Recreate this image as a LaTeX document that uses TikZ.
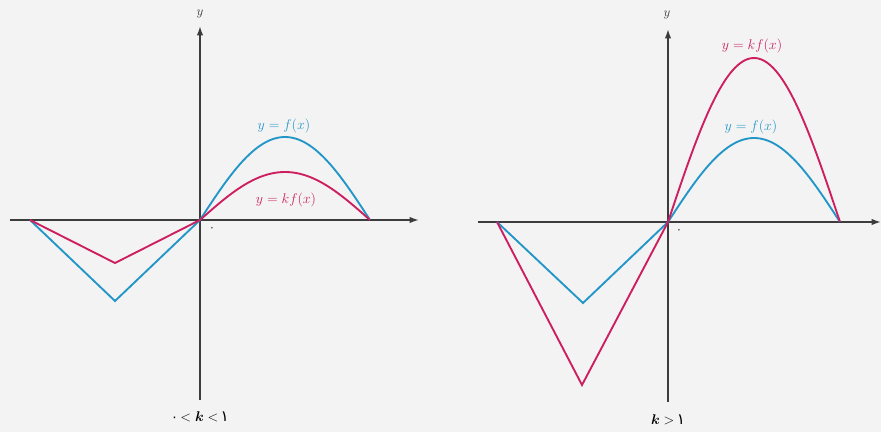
\documentclass[tikz,border=0pt]{standalone}
\usepackage{amsmath}
\usepackage{fontspec}
\newfontfamily\pfont{DejaVu Sans}
\usetikzlibrary{arrows.meta}
\definecolor{bg}{RGB}{243,243,243}
\definecolor{axc}{RGB}{60,60,60}
\definecolor{fblue}{RGB}{35,150,200}
\definecolor{fred}{RGB}{205,30,95}
\tikzset{
  axis/.style={draw=axc, line width=1.4pt, -{Latex[length=8pt,width=5.5pt]}},
  axisplain/.style={draw=axc, line width=1.4pt},
  fcurve/.style={draw=fblue, line width=1.6pt, line join=miter},
  kcurve/.style={draw=fred, line width=1.6pt, line join=miter},
  lbl/.style={inner sep=1pt, font=\fontsize{13}{15}\selectfont},
}
\begin{document}
\begin{tikzpicture}[x=0.03cm, y=-0.03cm]
\fill[bg] (0,0) rectangle (881,432);
\useasboundingbox (0,0) rectangle (881,432);
% ---------- left panel ----------
\coordinate (Lxs) at (10,220);
\coordinate (Lxe) at (419,220);
\coordinate (Lyb) at (200,400);
\coordinate (Lyt) at (200,26);
\coordinate (LO) at (200,220);
\draw[axisplain] (Lxs) -- (LO);
\draw[axis] (LO) -- (Lxe);
\draw[axis] (Lyb) -- (Lyt);
\node[lbl, text=axc, font=\fontsize{11}{12}\selectfont] (Lylab) at (200,14) {$y$};
\node[inner sep=0pt, font=\pfont\fontsize{10}{10}\selectfont, text=axc] (LOlab) at (212,229) {۰};
\coordinate (LA) at (30,220);
\coordinate (LVb) at (115,301);
\coordinate (LVr) at (115,263);
\draw[fcurve] (LA) -- (LVb) -- (LO);
\draw[kcurve] (LA) -- (LVr) -- (LO);
\draw[fcurve] plot[domain=0:1, samples=60, smooth] ({200+170*\x},{220-83*sin(180*\x)});
\draw[kcurve] plot[domain=0:1, samples=60, smooth] ({200+170*\x},{220-48*sin(180*\x)});
\node[lbl, text=fblue] (Lf) at (284,126) {$y=f(x)$};
\node[lbl, text=fred] (Lk) at (286,200) {$y=kf(x)$};
\node[inner sep=0pt, text=black, font=\fontsize{13}{14}\selectfont] (Lcond) at (200,417) {{\pfont\fontsize{11}{11}\selectfont ۰}$\,<\boldsymbol{k}<\,${\pfont\fontsize{13}{13}\selectfont ۱}};
% ---------- right panel ----------
\coordinate (Rxs) at (478,222);
\coordinate (Rxe) at (881,222);
\coordinate (Ryb) at (668,402);
\coordinate (Ryt) at (668,29);
\coordinate (RO) at (668,222);
\draw[axisplain] (Rxs) -- (RO);
\draw[axis] (RO) -- (Rxe);
\draw[axis] (Ryb) -- (Ryt);
\node[lbl, text=axc, font=\fontsize{11}{12}\selectfont] (Rylab) at (667,15) {$y$};
\node[inner sep=0pt, font=\pfont\fontsize{10}{10}\selectfont, text=axc] (ROlab) at (679,231) {۰};
\coordinate (RA) at (497,222);
\coordinate (RVb) at (583,303);
\coordinate (RVr) at (582,385);
\draw[fcurve] (RA) -- (RVb) -- (RO);
\draw[kcurve] (RA) -- (RVr) -- (RO);
\draw[fcurve] plot[domain=0:1, samples=60, smooth] ({668+172*\x},{222-84*sin(180*\x)});
\draw[kcurve] plot[domain=0:1, samples=60, smooth] ({668+172*\x},{222-164*sin(180*\x)});
\node[lbl, text=fblue] (Rf) at (751,127) {$y=f(x)$};
\node[lbl, text=fred] (Rk) at (752,46) {$y=kf(x)$};
\node[inner sep=0pt, text=black, font=\fontsize{13}{14}\selectfont] (Rcond) at (668,420) {$\boldsymbol{k}>\,${\pfont\fontsize{13}{13}\selectfont ۱}};
\end{tikzpicture}
\end{document}
